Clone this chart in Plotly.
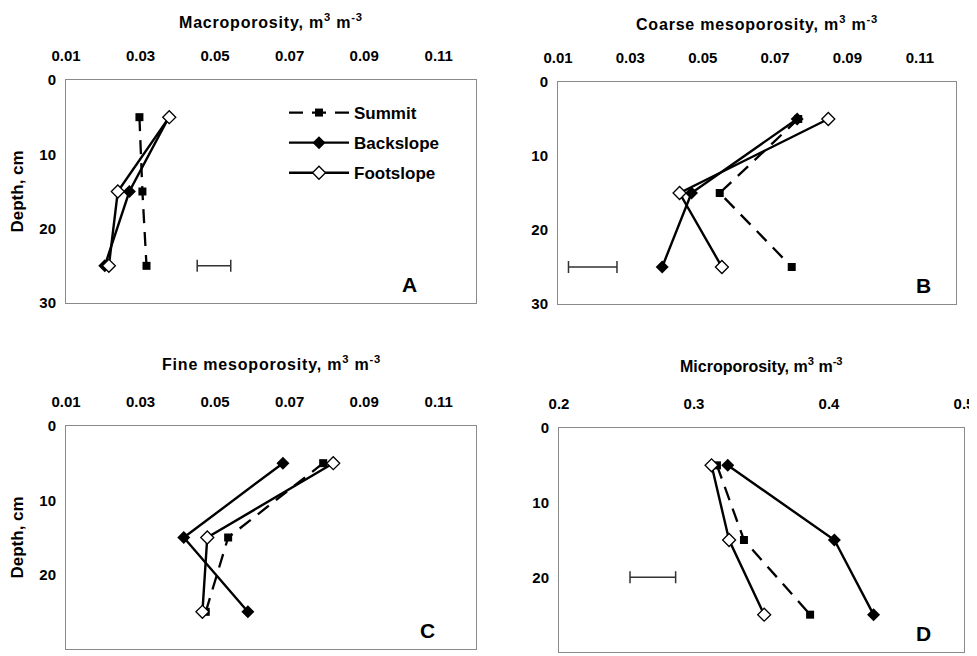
import plotly.graph_objects as go

PAGE_W, PAGE_H = 977, 656
OFF = 8  # default body margin of the page
W, H = PAGE_W - OFF, PAGE_H - OFF
depth = [5, 15, 25]
series = ["Summit", "Backslope", "Footslope"]

# Panel A: macroporosity
macro_summit = [0.0297, 0.0305, 0.0316]
macro_back = [0.0376, 0.0270, 0.0204]
macro_foot = [0.0377, 0.0239, 0.0215]
# Panel B: coarse mesoporosity
coarse_summit = [0.0764, 0.0547, 0.0746]
coarse_back = [0.0761, 0.0469, 0.0388]
coarse_foot = [0.0847, 0.0436, 0.0553]
# Panel C: fine mesoporosity
fine_summit = [0.0790, 0.0535, 0.0475]
fine_back = [0.0682, 0.0416, 0.0588]
fine_foot = [0.0817, 0.0479, 0.0466]
# Panel D: microporosity
micro_summit = [0.317, 0.337, 0.386]
micro_back = [0.325, 0.404, 0.433]
micro_foot = [0.313, 0.326, 0.352]

# LSD-style bars: (center, half-width, depth)
err_A = (0.0497, 0.0045, 25)
err_B = (0.0196, 0.0067, 25)
err_D = (0.2695, 0.0169, 20)

titles = ["Macroporosity, m<sup>3</sup> m<sup>-3</sup>",
          "Coarse mesoporosity, m<sup>3</sup> m<sup>-3</sup>",
          "Fine mesoporosity, m<sup>3</sup> m<sup>-3</sup>",
          "Microporosity, m<sup>3</sup> m<sup>-3</sup>"]
letters = ["A", "B", "C", "D"]
xticks_meso = [0.01, 0.03, 0.05, 0.07, 0.09, 0.11]
xticks_micro = [0.2, 0.3, 0.4, 0.5]
yticks = [0, 10, 20, 30]

FONT = "Arial, Liberation Sans, sans-serif"

# page-pixel boxes: left, right, top, bottom
boxes = [(66, 476, 80, 303), (558, 956, 82, 304),
         (66, 476, 426, 649), (559, 964, 428, 652)]
title_y = [21, 23, 363, 365]
letter_x = [409, 923, 427, 923]
title_spacing = [0.8, 0.8, 0.8, 0.0]


def px(x):
    return (x - OFF) / W


def py(y):
    return 1 - (y - OFF) / H


panels = [
    (macro_summit, macro_back, macro_foot, err_A, [0.01, 0.12], xticks_meso),
    (coarse_summit, coarse_back, coarse_foot, err_B, [0.01, 0.12], xticks_meso),
    (fine_summit, fine_back, fine_foot, None, [0.01, 0.12], xticks_meso),
    (micro_summit, micro_back, micro_foot, err_D, [0.2, 0.5], xticks_micro),
]

fig = go.Figure()
layout = dict(width=W, height=H, margin=dict(l=0, r=0, t=0, b=0, autoexpand=False),
              paper_bgcolor="white", plot_bgcolor="white", showlegend=True,
              font=dict(family=FONT, color="black"))
annotations = []

styles = [
    dict(line=dict(color="black", width=2.3, dash="14px,9px"),
         marker=dict(symbol="square", size=8, color="black")),
    dict(line=dict(color="black", width=2.4),
         marker=dict(symbol="diamond", size=10, color="black")),
    dict(line=dict(color="black", width=2.4),
         marker=dict(symbol="diamond", size=10, color="white",
                     line=dict(color="black", width=1.3))),
]

for i, (s, b, f, err, xr, xt) in enumerate(panels):
    n = "" if i == 0 else str(i + 1)
    xa, ya = "x" + n, "y" + n
    for j, vals in enumerate([s, b, f]):
        fig.add_trace(go.Scatter(x=vals, y=depth, xaxis=xa, yaxis=ya,
                                 mode="lines+markers", name=series[j],
                                 legendgroup=series[j], showlegend=(i == 0),
                                 **styles[j]))
    if err is not None:
        fig.add_trace(go.Scatter(x=[err[0]], y=[err[2]], xaxis=xa, yaxis=ya,
                                 mode="markers", showlegend=False,
                                 marker=dict(size=1, color="rgba(0,0,0,0)"),
                                 error_x=dict(type="data", array=[err[1]],
                                              color="#333", thickness=1.5,
                                              width=6)))
    l, r, t, btm = boxes[i]
    layout["xaxis" + n] = dict(domain=[px(l), px(r)], range=xr, tickvals=xt,
                               ticktext=[("%g" % v) for v in xt],
                               side="top", anchor=ya, showgrid=False, automargin=False,
                               zeroline=False, ticks="", ticklabelstandoff=12,
                               showline=True, linecolor="#8a8a8a", linewidth=1,
                               mirror=True,
                               tickfont=dict(size=15, family=FONT, weight="bold"))
    layout["yaxis" + n] = dict(domain=[py(btm), py(t)], range=[30, 0],
                               tickvals=yticks, anchor=xa, showgrid=False, automargin=False,
                               zeroline=False, ticks="", ticklabelstandoff=6,
                               showline=True, linecolor="#8a8a8a", linewidth=1,
                               mirror=True,
                               tickfont=dict(size=15, family=FONT, weight="bold"))
    ttl = "<b>" + titles[i] + "</b>"
    if title_spacing[i] > 0:
        ttl = '<span style="letter-spacing:%gpx">' % title_spacing[i] + ttl + "</span>"
    annotations.append(dict(text=ttl, xref="paper", yref="paper",
                            x=px((l + r) / 2), y=py(title_y[i]),
                            xanchor="center", yanchor="middle", showarrow=False,
                            font=dict(size=16, family=FONT)))
    annotations.append(dict(text="<b>" + letters[i] + "</b>", xref="paper", yref="paper",
                            x=px(letter_x[i]), y=py(btm - 19),
                            xanchor="center", yanchor="middle", showarrow=False,
                            font=dict(size=21, family=FONT)))
    if i in (0, 2):
        annotations.append(dict(text="<b>Depth, cm</b>", xref="paper", yref="paper",
                                x=px(17), y=py((t + btm) / 2), textangle=-90,
                                xanchor="center", yanchor="middle", showarrow=False,
                                font=dict(size=17, family=FONT)))

layout["annotations"] = annotations
layout["legend"] = dict(x=px(284), y=py(95), xanchor="left", yanchor="top",
                        bgcolor="rgba(0,0,0,0)", tracegroupgap=5, itemwidth=60,
                        traceorder="grouped",
                        font=dict(size=17, family=FONT, weight="bold"))
fig.update_layout(**layout)
fig.write_html("out.html")
